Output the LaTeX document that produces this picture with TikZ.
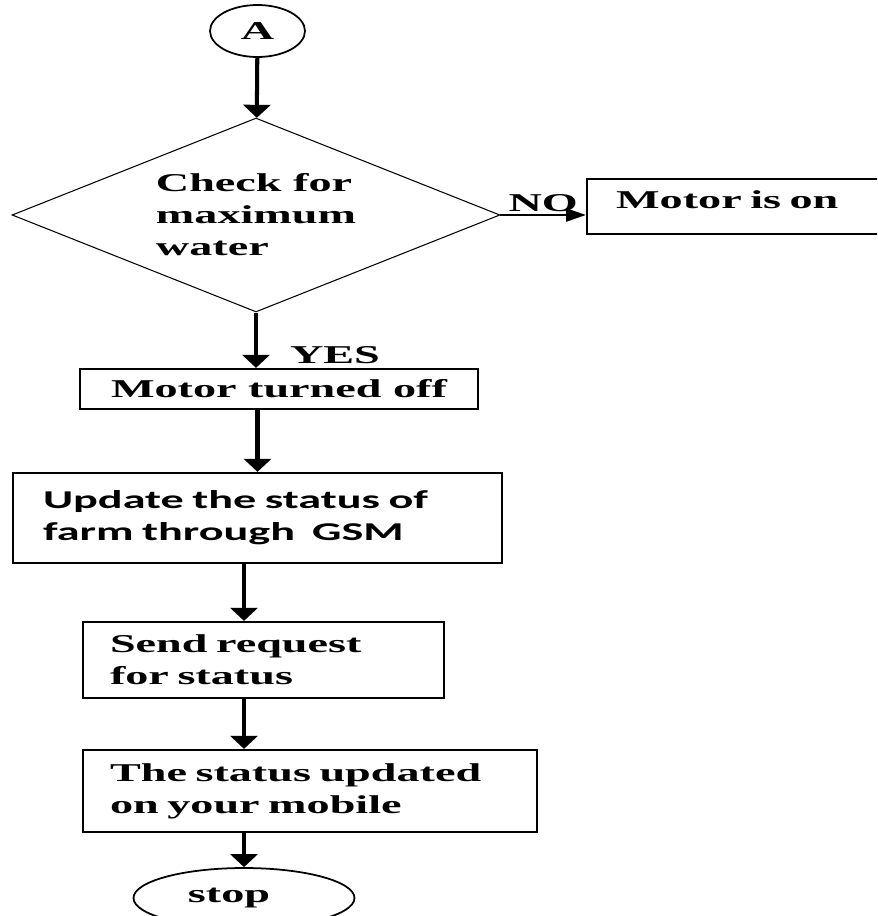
\documentclass[tikz,border=0pt]{standalone}
\usepackage{fontspec}
\setmainfont{Liberation Serif}[FakeStretch=1.8]
\newfontfamily\gsmfont{Carlito}[FakeStretch=1.8]
\usetikzlibrary{shapes.geometric,arrows.meta}
\begin{document}
\begin{tikzpicture}[x=0.02cm, y=-0.02cm,
  every node/.style={font=\fontsize{14.6}{18.2}\selectfont\bfseries},
  procbox/.style={draw, line width=1.3pt, inner ysep=0pt},
  flow/.style={line width=2.3pt, -{Triangle[width=0.54cm, length=0.26cm]}}]
\useasboundingbox (0,0) rectangle (877,916);
\clip (0,0) rectangle (877,916);
% terminals and decision
\node[draw, ellipse, line width=1pt, minimum width=1.9cm, minimum height=1.04cm, inner sep=0pt] (A) at (257.5,31) {A};
\node[draw, diamond, line width=0.6pt, aspect=2.5, minimum width=9.76cm, minimum height=3.88cm, inner sep=0pt, align=left] (chk) at (256,215) {Check for\\maximum\\water};
\node[procbox, anchor=west, minimum height=1.1cm, inner xsep=0.58cm, text width=5.12cm, text depth=0.28cm, align=left] (on) at (586,206.5) {Motor is on};
% process boxes
\node[procbox, minimum width=7.96cm, minimum height=0.8cm] (off) at (279,389) {Motor turned off};
\node[procbox, minimum height=1.8cm, inner xsep=0.6cm, text width=8.58cm, align=left, font={\fontsize{14.6}{18.2}\selectfont\gsmfont\bfseries}] (upd) at (257.5,518) {Update the status of\\farm through\ \ GSM};
\node[procbox, minimum height=1.52cm, inner xsep=0.54cm, text width=6.14cm, align=left] (send) at (263.5,660) {Send request\\for status};
\node[procbox, minimum height=1.64cm, inner xsep=0.54cm, text width=8cm, align=left] (stat) at (310,791) {The status updated\\on your mobile};
\node[draw, ellipse, line width=1pt, minimum width=4.42cm, minimum height=1.2cm, inner sep=0pt] (stop) at (244,898) {stop\hspace*{0.6cm}};
% connectors
\draw[flow] (A) -- (chk);
\draw[line width=1.6pt, -{Triangle[width=0.26cm, length=0.4cm]}] (chk.east) -- (chk.east -| on.west) node[midway, above, inner sep=1pt] {NO};
\draw[flow] (chk.south) -- (chk.south |- off.north) node[pos=1, anchor=base west, inner sep=0pt, xshift=0.64cm, yshift=0.08cm] {YES};
\draw[flow] (off.south -| upd.north) -- (upd.north);
\draw[flow] (upd.south -| stop.north) -- (send.north -| stop.north);
\draw[flow] (send.south -| stop.north) -- (stat.north -| stop.north);
\draw[flow] (stat.south -| stop.north) -- (stop.north);
\end{tikzpicture}
\end{document}
